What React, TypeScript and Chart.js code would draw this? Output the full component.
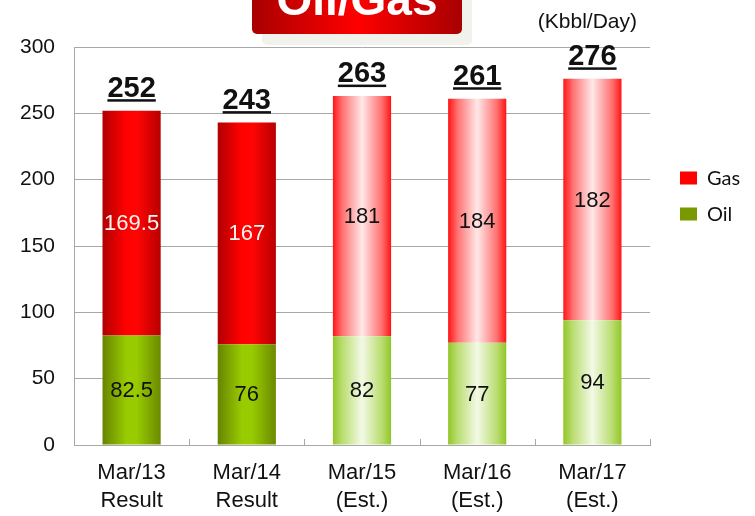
import React, { useEffect, useRef } from "react";
import { Chart, registerables } from "chart.js";

Chart.register(...registerables);

const categories: string[][] = [
  ["Mar/13", "Result"],
  ["Mar/14", "Result"],
  ["Mar/15", "(Est.)"],
  ["Mar/16", "(Est.)"],
  ["Mar/17", "(Est.)"],
];
const status: string[] = ["result", "result", "est", "est", "est"];
const oilValues: number[] = [82.5, 76, 82, 77, 94];
const gasValues: number[] = [169.5, 167, 181, 184, 182];
const oilLabels: string[] = ["82.5", "76", "82", "77", "94"];
const gasLabels: string[] = ["169.5", "167", "181", "184", "182"];
const totalLabels: string[] = ["252", "243", "263", "261", "276"];
const yMin = 0;
const yMax = 300;
const yStep = 50;
const titleText = "Oil/Gas";
const unitText = "(Kbbl/Day)";

const FONT = "'Liberation Sans', Arial, sans-serif";
const GRID = "#A8A8A8";

const gasSolid: [number, string][] = [
  [0, "#B00000"], [0.4, "#FF0000"], [0.6, "#FF0404"], [1, "#B80000"],
];
const oilSolid: [number, string][] = [
  [0, "#678400"], [0.42, "#99CC00"], [0.58, "#99CC00"], [1, "#6B8A00"],
];
const gasLight: [number, string][] = [
  [0, "#FF1414"], [0.16, "#FF7070"], [0.5, "#FFE8E8"], [0.84, "#FF7070"], [1, "#FF1414"],
];
const oilLight: [number, string][] = [
  [0, "#92C628"], [0.16, "#B9DD70"], [0.5, "#F3F9E6"], [0.84, "#B9DD70"], [1, "#92C628"],
];

const CAT_PCT = 0.505;

function barGradient(solid: [number, string][], light: [number, string][], fallback: string) {
  return (context: any) => {
    const chart = context.chart;
    const xs = chart.scales && chart.scales.x;
    if (!chart.chartArea || !xs || context.dataIndex === undefined) return fallback;
    const i = context.dataIndex;
    const cx = xs.getPixelForValue(i);
    const catW = xs.width / categories.length;
    const w = catW * CAT_PCT;
    const g = chart.ctx.createLinearGradient(cx - w / 2, 0, cx + w / 2, 0);
    const stops = status[i] === "result" ? solid : light;
    stops.forEach(([p, c]) => g.addColorStop(p, c));
    return g;
  };
}

const decorPlugin = {
  id: "decor",
  beforeDraw(chart: any) {
    const ctx = chart.ctx;
    ctx.save();
    // title shadow
    ctx.fillStyle = "#F2F2EC";
    ctx.beginPath();
    ctx.roundRect(262, -10, 210, 55, 5);
    ctx.fill();
    // title box
    const g = ctx.createLinearGradient(252, 0, 462, 0);
    g.addColorStop(0, "#A80000");
    g.addColorStop(0.5, "#FF0000");
    g.addColorStop(1, "#A80000");
    ctx.fillStyle = g;
    ctx.beginPath();
    ctx.roundRect(252, -20, 210, 54, 5);
    ctx.fill();
    ctx.fillStyle = "#FFFFFF";
    ctx.font = `bold 46px ${FONT}`;
    ctx.textAlign = "center";
    ctx.textBaseline = "alphabetic";
    ctx.fillText(titleText, 357, 15);
    // unit
    ctx.fillStyle = "#111111";
    ctx.font = `21px ${FONT}`;
    ctx.textAlign = "right";
    ctx.fillText(unitText, 637, 28);
    ctx.restore();
  },
  afterDatasetsDraw(chart: any) {
    const ctx = chart.ctx;
    const xs = chart.scales.x;
    const area = chart.chartArea;
    ctx.save();
    // inner tick marks on x axis at category boundaries
    const catW = xs.width / categories.length;
    ctx.strokeStyle = GRID;
    ctx.lineWidth = 1;
    for (let i = 0; i < categories.length; i++) {
      const bx = Math.round(xs.getPixelForValue(i) + catW / 2) + 0.5;
      ctx.beginPath();
      ctx.moveTo(bx, area.bottom - 6);
      ctx.lineTo(bx, area.bottom);
      ctx.stroke();
    }
    // segment labels
    const oilMeta = chart.getDatasetMeta(0);
    const gasMeta = chart.getDatasetMeta(1);
    ctx.textAlign = "center";
    ctx.textBaseline = "middle";
    ctx.font = `22px ${FONT}`;
    oilMeta.data.forEach((el: any, i: number) => {
      ctx.fillStyle = "#111111";
      ctx.fillText(oilLabels[i], el.x, (el.y + el.base) / 2 + 1);
    });
    gasMeta.data.forEach((el: any, i: number) => {
      ctx.fillStyle = status[i] === "result" ? "#F4F4F4" : "#111111";
      ctx.fillText(gasLabels[i], el.x, (el.y + el.base) / 2 + 1);
    });
    // totals
    ctx.font = `bold 29px ${FONT}`;
    ctx.textBaseline = "alphabetic";
    ctx.fillStyle = "#111111";
    gasMeta.data.forEach((el: any, i: number) => {
      const baseY = el.y - 14;
      ctx.fillText(totalLabels[i], el.x, baseY);
      const w = ctx.measureText(totalLabels[i]).width;
      ctx.fillRect(el.x - w / 2, baseY + 2.5, w, 2.5);
    });
    // legend (reverse order: Gas on top)
    const items = chart.data.datasets.slice().reverse();
    ctx.font = `20px Lato, ${FONT}`;
    ctx.textAlign = "left";
    ctx.textBaseline = "middle";
    items.forEach((ds: any, k: number) => {
      const cy = 178 + k * 36;
      ctx.fillStyle = ds.legendColor;
      ctx.fillRect(area.right + 30, cy - 6.5, 17, 13);
      ctx.fillStyle = "#111111";
      ctx.fillText(ds.label, area.right + 57, cy + 1);
    });
    ctx.restore();
  },
};

export default function App() {
  const ref = useRef<HTMLCanvasElement | null>(null);
  useEffect(() => {
    if (!ref.current) return;
    const chart = new Chart(ref.current, {
      type: "bar",
      data: {
        labels: categories,
        datasets: [
          {
            label: "Oil",
            data: oilValues,
            backgroundColor: barGradient(oilSolid, oilLight, "#99CC00"),
            borderWidth: 0,
            categoryPercentage: CAT_PCT,
            barPercentage: 1,
            legendColor: "#789A00",
          } as any,
          {
            label: "Gas",
            data: gasValues,
            backgroundColor: barGradient(gasSolid, gasLight, "#FF0000"),
            borderWidth: 0,
            categoryPercentage: CAT_PCT,
            barPercentage: 1,
            legendColor: "#FF0000",
          } as any,
        ],
      },
      options: {
        responsive: false,
        animation: false,
        layout: { padding: { top: 47, right: 105, left: 0, bottom: 0 } },
        plugins: {
          legend: { display: false },
          tooltip: { enabled: false },
          title: { display: false },
        },
        scales: {
          x: {
            stacked: true,
            afterFit: (s: any) => {
              s.height = 71;
            },
            grid: { display: true, drawOnChartArea: false, drawTicks: false, color: GRID },
            border: { display: true, color: GRID, width: 1 },
            ticks: {
              autoSkip: false,
              maxRotation: 0,
              padding: 14,
              color: "#111111",
              font: { family: FONT, size: 22, lineHeight: 28 / 22 },
            },
          },
          y: {
            stacked: true,
            min: yMin,
            max: yMax,
            afterFit: (s: any) => {
              s.width = 74;
            },
            grid: { color: GRID, lineWidth: 1, drawTicks: false },
            border: { display: true, color: GRID, width: 1 },
            ticks: {
              stepSize: yStep,
              padding: 19,
              color: "#111111",
              font: { family: FONT, size: 21 },
            },
          },
        },
      },
      plugins: [decorPlugin],
    });
    return () => chart.destroy();
  }, []);
  return (
    <div style={{ position: "fixed", left: 0, top: 0, width: 755, height: 516, background: "#FFFFFF" }}>
      <canvas ref={ref} width={755} height={516} style={{ display: "block" }} />
    </div>
  );
}
